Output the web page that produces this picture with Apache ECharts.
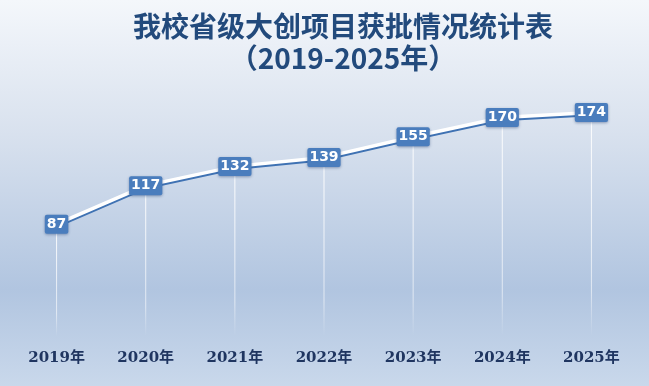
<!DOCTYPE html>
<html><head><meta charset="utf-8">
<script src="https://cdn.jsdelivr.net/npm/echarts@6/dist/echarts.min.js"></script>
<style>html,body{margin:0;padding:0;}#c{width:649px;height:386px;}</style>
</head><body><div id="c"></div>
<script>
var categories = ['2019年','2020年','2021年','2022年','2023年','2024年','2025年'];
var values = [87, 117, 132, 139, 155, 170, 174];
var titleLines = ['我校省级大创项目获批情况统计表', '（2019-2025年）'];

var chart = echarts.init(document.getElementById('c'));
chart.setOption({
  backgroundColor: {
    type: 'linear', x: 0, y: 0, x2: 0, y2: 1,
    colorStops: [
      {offset: 0, color: '#f4f7fb'},
      {offset: 0.35, color: '#d8e1ee'},
      {offset: 0.75, color: '#b1c5e0'},
      {offset: 1, color: '#c9d8eb'}
    ]
  },
  title: {
    text: titleLines[0] + '\n' + titleLines[1],
    left: 338, top: 5, textAlign: 'center',
    textStyle: {
      fontSize: 28, fontWeight: 'bold', color: '#224a7c', lineHeight: 32,
      fontFamily: '"Noto Sans CJK SC", sans-serif'
    }
  },
  grid: {left: 12, right: 13, top: 79, bottom: 50},
  xAxis: {
    type: 'category', data: categories, boundaryGap: true,
    axisLine: {show: false}, axisTick: {show: false},
    axisLabel: {
      margin: 15, fontSize: 15, fontWeight: 'bold', color: '#1f3560',
      fontFamily: '"DejaVu Serif", "Liberation Serif", "Noto Sans CJK SC", serif'
    }
  },
  yAxis: {
    type: 'value', min: 0, max: 200,
    show: false, splitLine: {show: false}
  },
  series: [
    {
      type: 'bar', data: values, barWidth: 1, silent: true,
      itemStyle: {
        color: {
          type: 'linear', x: 0, y: 0, x2: 0, y2: 1,
          colorStops: [
            {offset: 0, color: 'rgba(255,255,255,0.95)'},
            {offset: 0.8, color: 'rgba(255,255,255,0.6)'},
            {offset: 1, color: 'rgba(255,255,255,0)'}
          ]
        }
      }
    },
    {
      type: 'line', data: values, symbol: 'circle', symbolSize: 2,
      itemStyle: {color: 'rgba(0,0,0,0)'},
      lineStyle: {
        color: '#ffffff', width: 3.5,
        shadowColor: '#3f72b3', shadowBlur: 0, shadowOffsetY: 2
      },
      label: {
        show: true, position: 'inside',
        color: '#ffffff', fontSize: 14, fontWeight: 'bold',
        fontFamily: '"DejaVu Sans", sans-serif',
        backgroundColor: '#4a7dbd', padding: [3, 2, 2, 2], borderRadius: 2,
        shadowColor: 'rgba(30,60,110,0.45)', shadowBlur: 3, shadowOffsetY: 1
      },
      z: 5
    }
  ]
});
</script>
</body></html>
